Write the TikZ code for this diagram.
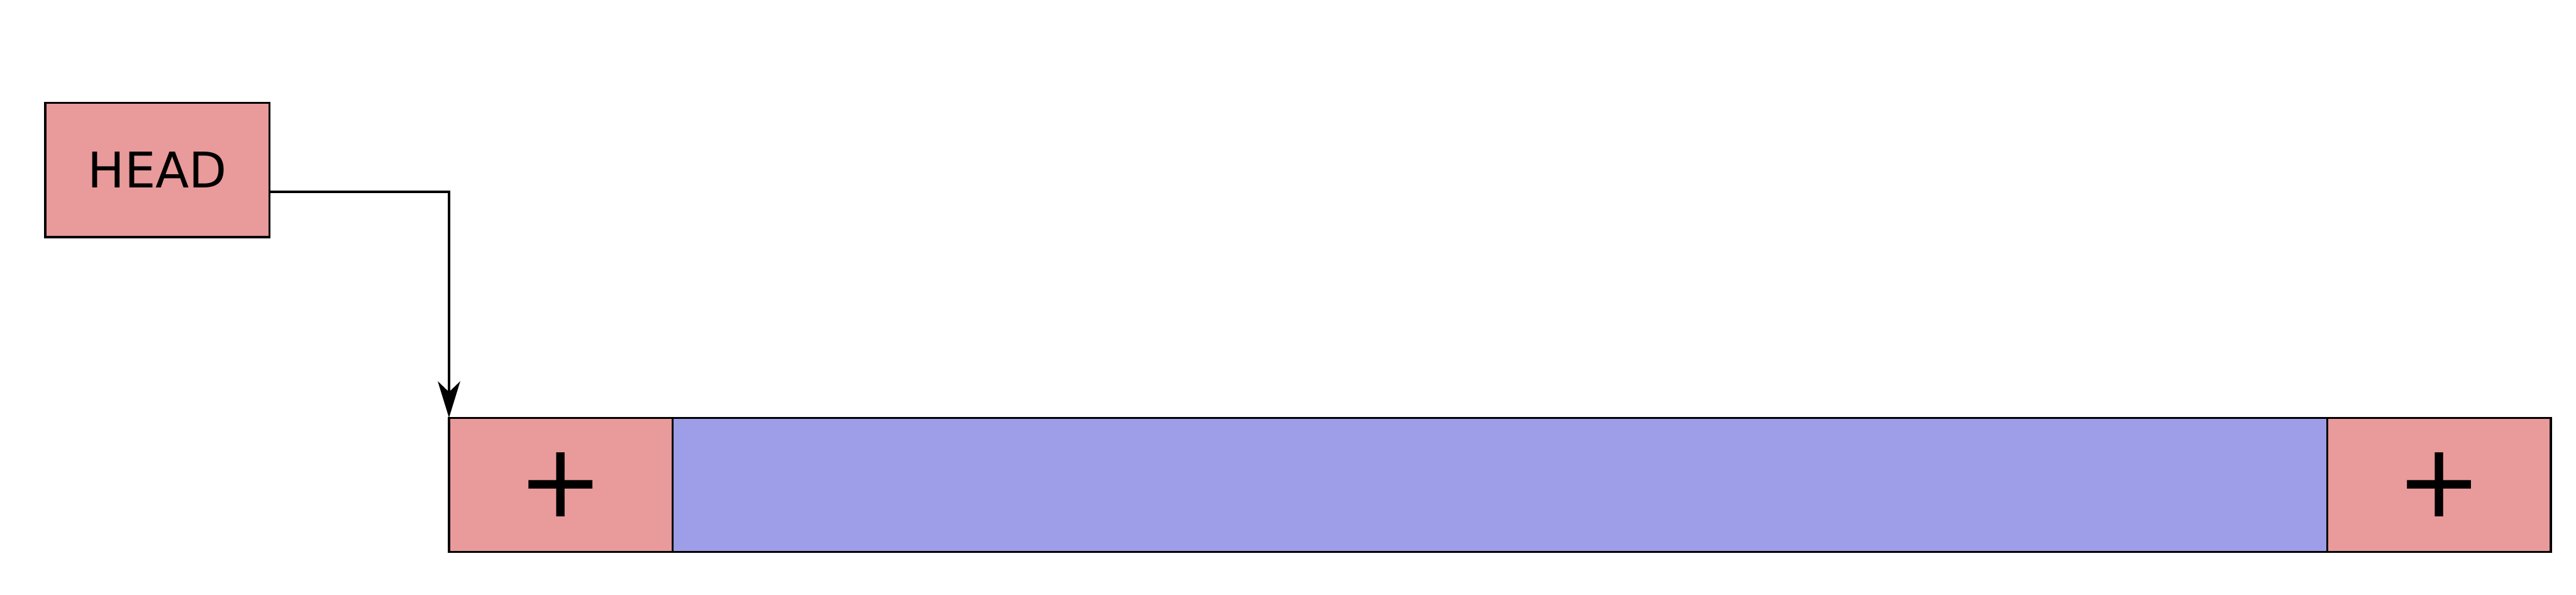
\documentclass[tikz,border=0pt]{standalone}
\usepackage{fontspec}
\setmainfont{DejaVu Sans}
\usepackage{tikz}
\usetikzlibrary{arrows.meta,positioning}
\definecolor{cellpink}{HTML}{E99A9A}
\definecolor{bodyblue}{HTML}{9D9DE8}

\begin{document}
\begin{tikzpicture}[
  cell/.style={draw=black, line width=1pt, fill=cellpink, inner sep=0pt, outer sep=0pt,
               minimum width=4cm, minimum height=2.4cm},
  bodybox/.style={draw=black, line width=1pt, fill=bodyblue, inner sep=0pt, outer sep=0pt,
                  minimum width=29.59cm, minimum height=2.4cm},
  plusfont/.style={font=\fontsize{52}{60}\selectfont},
  arr/.style={-{Stealth[length=0.65cm, width=0.4cm, inset=0.19cm]}, line width=1pt}]
\useasboundingbox (0,0) rectangle (46.07,10.63);
\node[cell, minimum width=4.01cm, font=\fontsize{25}{30}\selectfont] (head) at (2.815,7.59) {HEAD};
\node[cell, plusfont] (plusL) at (10.03,1.96) {+};
\node[bodybox, right=0pt of plusL] (body) {};
\node[cell, plusfont, right=0pt of body] (plusR) {+};
\draw[arr] ([yshift=-0.39cm]head.east) -| (plusL.north west);
\end{tikzpicture}
\end{document}
